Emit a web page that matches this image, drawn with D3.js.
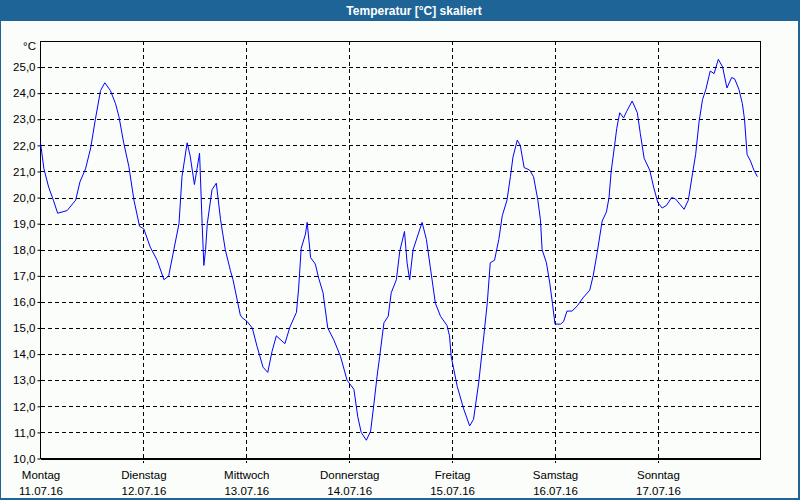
<!DOCTYPE html>
<html><head><meta charset="utf-8">
<script src="https://cdn.jsdelivr.net/npm/d3@7"></script>
<style>
html,body{margin:0;padding:0;background:#fafdfa;}
svg{display:block;font-family:"Liberation Sans",Arial,sans-serif;}
</style></head>
<body><svg id="c" width="800" height="500"></svg>
<script>
const title = "Temperatur [°C] skaliert";
const unitLabel = "°C";
const dayNames = ["Montag","Dienstag","Mittwoch","Donnerstag","Freitag","Samstag","Sonntag"];
const dayDates = ["11.07.16","12.07.16","13.07.16","14.07.16","15.07.16","16.07.16","17.07.16"];
const yTicks = [10,11,12,13,14,15,16,17,18,19,20,21,22,23,24,25];
// hours since Monday 00:00
const hours = [0,0.8,1.9,3.0,4.0,6.2,8.2,9.2,10.5,11.7,12.8,14.0,15.0,16.3,17.5,18.3,19.4,20.6,21.8,23.1,
24.1,25.6,27.2,28.8,29.9,31.1,32.3,33.0,34.2,34.9,35.9,36.5,37.1,37.7,38.1,38.5,38.9,40.0,41.0,42.0,43.1,44.3,44.9,
46.6,47.0,48.2,49.4,50.5,51.9,53.0,54.0,55.0,57.0,58.2,59.7,60.2,60.8,61.8,62.2,63.0,64.1,64.9,65.9,67.0,68.4,70.0,71.5,
73.1,74.0,74.8,76.0,77.0,77.7,78.5,79.1,80.1,81.1,81.8,83.0,83.8,84.9,85.5,86.1,86.9,87.8,89.0,90.0,90.9,92.1,93.3,94.8,95.4,95.8,
97.2,98.7,100.1,101.0,102.2,103.4,104.2,104.9,105.9,106.9,107.7,108.8,109.6,110.2,111.2,111.9,112.8,114.1,115.0,116.0,116.6,117.0,118.0,118.8,119.4,
120.0,121.3,122.0,122.8,124.0,125.2,126.5,128.1,128.9,129.8,131.0,132.0,132.6,133.1,133.9,134.4,135.1,136.0,136.7,138.0,139.2,139.9,140.8,142.1,143.0,
144.0,145.0,146.0,147.2,148.1,149.1,150.1,151.1,152.1,152.8,153.6,154.4,155.2,156.2,157.1,158.1,159.1,160.1,161.2,161.9,162.9,163.7,164.2,164.8,165.6,166.4,167.2];
const temps = [22.1,21.1,20.4,19.9,19.4,19.5,19.9,20.6,21.1,21.9,23.0,24.1,24.4,24.1,23.6,23.1,22.1,21.2,19.9,18.9,
18.8,18.1,17.6,16.85,17.0,18.0,19.0,20.8,22.1,21.6,20.5,21.1,21.7,19.0,17.4,18.0,19.0,20.3,20.55,19.15,18.0,17.2,16.85,
15.5,15.4,15.25,15.0,14.3,13.5,13.3,14.1,14.7,14.4,15.05,15.6,16.5,18.05,18.6,19.05,17.7,17.45,16.9,16.35,15.0,14.55,13.9,13.0,
12.65,11.6,11.0,10.7,11.05,12.0,13.15,13.9,15.2,15.45,16.35,16.85,17.95,18.7,17.5,16.85,18.0,18.45,19.05,18.4,17.35,15.95,15.45,15.1,14.7,13.9,
12.76,11.9,11.25,11.5,12.9,14.7,15.95,17.5,17.6,18.4,19.3,19.9,20.8,21.55,22.2,22.0,21.15,21.05,20.8,19.9,19.15,18.0,17.5,16.7,15.95,
15.15,15.15,15.25,15.65,15.65,15.85,16.15,16.45,17.0,17.85,19.1,19.45,20.0,21.0,22.0,22.65,23.25,23.05,23.3,23.7,23.25,22.45,21.5,21.05,20.4,
19.8,19.6,19.7,20.0,19.95,19.75,19.55,19.9,20.95,21.65,22.9,23.75,24.15,24.85,24.75,25.3,25.0,24.2,24.6,24.55,24.15,23.6,23.0,21.65,21.4,21.05,20.8];

const svg = d3.select("#c");
const blue = "#1e6497";
const W = 800, H = 500;
const x = d3.scaleLinear().domain([0,168]).range([40.5,760.8]);
const y = d3.scaleLinear().domain([10,26]).range([458.5,41]);

svg.append("rect").attr("width",W).attr("height",H).attr("fill","#fafdfa");
// title bar
svg.append("rect").attr("x",0).attr("y",0).attr("width",W).attr("height",21).attr("fill",blue);
svg.append("text").attr("x",414).attr("y",15).attr("text-anchor","middle")
  .attr("fill","#fff").attr("font-weight","bold").attr("font-size","12px").text(title);
// window frame
svg.append("rect").attr("x",0.5).attr("y",0.5).attr("width",W-1).attr("height",H-1)
  .attr("fill","none").attr("stroke",blue).attr("stroke-width",1);
svg.append("line").attr("x1",798.5).attr("x2",798.5).attr("y1",0).attr("y2",H).attr("stroke",blue);
svg.append("line").attr("x1",0).attr("x2",W).attr("y1",498.5).attr("y2",498.5).attr("stroke",blue);

const dayTicks = d3.range(0,7).map(i=>i*24);

// horizontal grid
svg.append("g").selectAll("line").data(yTicks).join("line")
  .attr("x1",x(0)).attr("x2",x(168))
  .attr("y1",d=>Math.round(y(d))+0.5).attr("y2",d=>Math.round(y(d))+0.5)
  .attr("stroke","#000").attr("stroke-dasharray","4,3").attr("shape-rendering","crispEdges");
// vertical grid
svg.append("g").selectAll("line").data(dayTicks.slice(1)).join("line")
  .attr("x1",d=>Math.round(x(d))+0.5).attr("x2",d=>Math.round(x(d))+0.5)
  .attr("y1",y(26)).attr("y2",y(10)+4)
  .attr("stroke","#000").attr("stroke-dasharray","4,3").attr("shape-rendering","crispEdges");

// frame
svg.append("rect").attr("x",x(0)).attr("y",y(26)).attr("width",x(168)-x(0)).attr("height",y(10)-y(26))
  .attr("fill","none").attr("stroke","#000").attr("stroke-width",1).attr("shape-rendering","crispEdges");
svg.append("line").attr("x1",x(0)).attr("x2",x(168)).attr("y1",y(10)+0.5).attr("y2",y(10)+0.5)
  .attr("stroke","#000").attr("shape-rendering","crispEdges");

// y axis
const yAxis = d3.axisLeft(y).tickValues(yTicks).tickSize(3).tickPadding(2)
  .tickFormat(d=>d3.format(".1f")(d).replace(".",","));
const gy = svg.append("g").attr("transform",`translate(${x(0)},0)`).call(yAxis);
gy.select(".domain").remove();
gy.selectAll("text").attr("font-size","11.5px").attr("fill","#000").attr("font-family","Liberation Sans, Arial, sans-serif");
gy.selectAll("line").attr("stroke","#000");
svg.append("text").attr("x",36).attr("y",50).attr("text-anchor","end").attr("font-size","11.5px").text(unitLabel);

// x axis
const xAxis = d3.axisBottom(x).tickValues(dayTicks).tickSize(0).tickPadding(20)
  .tickFormat((d,i)=>dayNames[i]);
const gx = svg.append("g").attr("transform",`translate(0,${y(10)})`).call(xAxis);
gx.select(".domain").remove();
gx.selectAll("text").attr("font-size","11.5px").attr("fill","#000").attr("font-family","Liberation Sans, Arial, sans-serif")
  .each(function(d,i){
    const t = d3.select(this);
    t.text(null);
    t.append("tspan").attr("x",0).attr("dy","0").text(dayNames[i]);
    t.append("tspan").attr("x",0).attr("dy","16").text(dayDates[i]);
  });

// line
const pts = hours.map((h,i)=>[h,temps[i]]);
svg.append("path").datum(pts)
  .attr("fill","none").attr("stroke","#0000ff").attr("stroke-width",1)
  .attr("d",d3.line().x(d=>x(d[0])).y(d=>y(d[1])));
</script></body></html>
